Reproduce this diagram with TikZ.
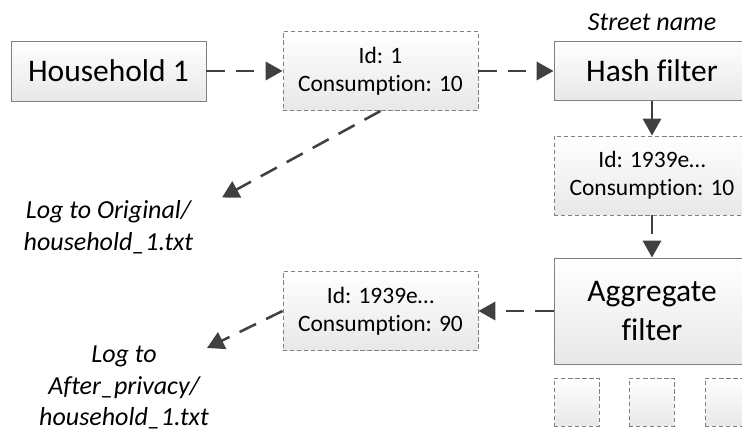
\documentclass[tikz,border=0pt]{standalone}
\usepackage{fontspec}
\setmainfont{Carlito}[Ligatures=NoCommon]
\usetikzlibrary{arrows.meta}
\definecolor{linegray}{HTML}{404040}
\definecolor{edgegray}{HTML}{808080}

\begin{document}
\begin{tikzpicture}[
	filterbox/.style={draw=edgegray, line width=0.7pt, top color=white, bottom color=black!9,
		inner sep=0pt, align=center, font=\fontsize{22.4}{27.5}\selectfont},
	msgbox/.style={draw=edgegray, line width=0.7pt, dash pattern=on 3pt off 2pt, top color=white,
		bottom color=black!9, inner sep=0pt, align=center, minimum width=4.875cm,
		minimum height=1.975cm, font=\fontsize{16.7}{20}\selectfont},
	slotbox/.style={draw=edgegray, line width=0.7pt, dash pattern=on 3pt off 2pt, top color=white,
		bottom color=black!9, inner sep=0pt, minimum width=1.125cm, minimum height=1.2cm},
	logtext/.style={align=center, font=\fontsize{18.5}{22.5}\selectfont\itshape},
	flow/.style={draw=linegray, line width=1.8pt, dash pattern=on 13pt off 8pt,
		-{Triangle[length=12pt,width=13pt]}},
	solidflow/.style={flow, solid}
]
	\path[use as bounding box, clip] (0,0) rectangle (18.55,10.8);

	% top row
	\node (hh) at (2.7125,9.025) [filterbox, minimum width=4.875cm, minimum height=1.5cm] {Household 1};
	\node (msg1) at (9.5125,9.025) [msgbox] {Id: 1\\Consumption: 10};
	\node (hash) at (16.3,9.025) [filterbox, minimum width=4.9cm, minimum height=1.475cm] {Hash filter};
	\node (street) at (16.3,10.25) [logtext] {Street name};

	% right column
	\node (msg2) at (16.3,6.4125) [msgbox, minimum width=4.9cm] {Id: 1939e…\\Consumption: 10};
	\node (agg) at (16.3,3.025) [filterbox, minimum width=4.9cm, minimum height=2.65cm] {Aggregate\\filter};
	\node (slot1) at (14.4125,0.75) [slotbox] {};
	\node (slot2) at (16.2875,0.75) [slotbox] {};
	\node (slot3) at (18.1875,0.75) [slotbox] {};

	% outputs
	\node (msg3) at (9.5125,3.025) [msgbox] {Id: 1939e…\\Consumption: 90};
	\node (log1) at (2.7125,5.125) [logtext] {Log to Original/\\household\_1.txt};
	\node (log2) at (3.1,1.1125) [logtext] {Log to\\After\_privacy/\\household\_1.txt};
	\coordinate (log1tip) at (5.55,5.8625);
	\coordinate (log2tip) at (5.175,2.1);

	\draw[flow] (hh)--(msg1);
	\draw[flow] (msg1)--(hash);
	\draw[solidflow] (hash)--(msg2);
	\draw[flow] (msg2)--(agg);
	\draw[flow] (agg)--(msg3);
	\draw[flow] (msg1.south)--(log1tip);
	\draw[flow] (msg3.west)--(log2tip);
\end{tikzpicture}
\end{document}
